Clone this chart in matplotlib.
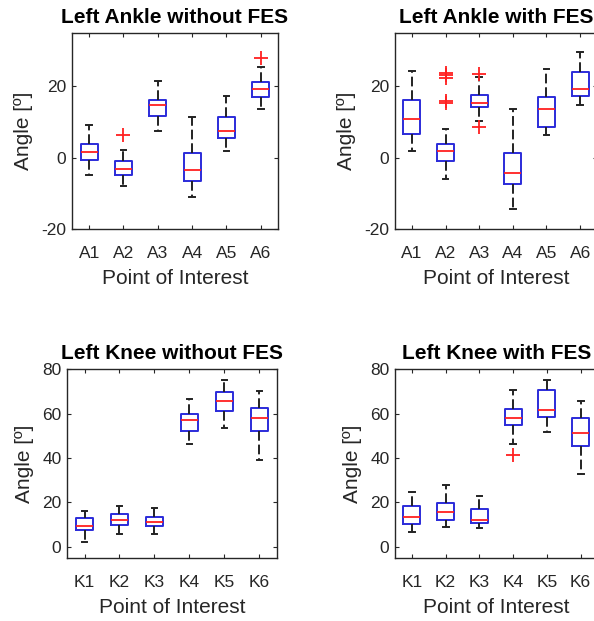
import matplotlib
matplotlib.use("Agg")
import matplotlib.pyplot as plt

plt.rcParams['font.family'] = ['Liberation Sans', 'DejaVu Sans']
plt.rcParams['axes.unicode_minus'] = False

ankle_labels = ['A1', 'A2', 'A3', 'A4', 'A5', 'A6']
knee_labels = ['K1', 'K2', 'K3', 'K4', 'K5', 'K6']

# box stats: low whisker, q1, median, q3, high whisker
ankle_wo_low = [-4.7, -8.0, 7.5, -11.0, 1.8, 13.8]
ankle_wo_q1 = [-0.7, -4.8, 11.8, -6.4, 5.6, 17.1]
ankle_wo_med = [1.5, -3.2, 14.8, -3.3, 7.4, 19.3]
ankle_wo_q3 = [3.8, -1.0, 16.3, 1.4, 11.5, 21.3]
ankle_wo_high = [9.1, 2.2, 21.4, 11.4, 17.2, 25.5]
ankle_wo_out = [[], [6.3], [], [], [], [28.0]]

ankle_w_low = [2.0, -6.1, 10.3, -14.3, 6.4, 14.7]
ankle_w_q1 = [6.8, -0.8, 14.2, -7.4, 8.7, 17.4]
ankle_w_med = [10.8, 1.9, 15.4, -4.4, 13.6, 19.3]
ankle_w_q3 = [16.3, 3.9, 17.7, 1.4, 17.1, 24.0]
ankle_w_high = [24.3, 8.2, 22.8, 13.7, 24.9, 29.6]
ankle_w_out = [[], [23.7, 23.1, 22.4, 16.0, 15.5], [23.5, 8.5], [], [], []]

knee_wo_low = [2.0, 5.6, 5.6, 46.4, 53.5, 38.9]
knee_wo_q1 = [7.5, 9.8, 9.5, 52.1, 61.3, 52.1]
knee_wo_med = [9.6, 12.0, 11.4, 56.9, 65.8, 57.8]
knee_wo_q3 = [12.8, 14.8, 13.4, 59.6, 69.9, 62.5]
knee_wo_high = [16.0, 18.5, 17.5, 66.7, 75.3, 70.2]
knee_wo_out = [[], [], [], [], [], []]

knee_w_low = [6.9, 8.9, 8.4, 46.1, 51.8, 32.8]
knee_w_q1 = [10.1, 12.2, 10.7, 54.8, 58.5, 45.6]
knee_w_med = [13.4, 15.7, 12.3, 58.0, 61.5, 51.3]
knee_w_q3 = [18.5, 19.6, 17.2, 62.0, 70.8, 57.8]
knee_w_high = [24.7, 28.0, 23.0, 70.6, 75.0, 65.5]
knee_w_out = [[], [], [], [41.4], [], []]


def make_stats(low, q1, med, q3, high, out):
    stats = []
    for i in range(len(med)):
        stats.append({'whislo': low[i], 'q1': q1[i], 'med': med[i],
                      'q3': q3[i], 'whishi': high[i], 'fliers': out[i]})
    return stats


def draw_panel(ax, stats, labels, title, ylim, yticks):
    ax.bxp(stats, positions=range(1, 7), widths=0.5, capwidths=0.17,
           showfliers=True,
           boxprops=dict(color='#2b2bd9', linewidth=1.4),
           medianprops=dict(color='#ff2020', linewidth=1.3),
           whiskerprops=dict(color='#222222', linewidth=1.4, linestyle=(0, (5, 2))),
           capprops=dict(color='#222222', linewidth=1.4),
           flierprops=dict(marker='+', markeredgecolor='#ff2020', markersize=10,
                           markeredgewidth=1.3, linestyle='none'))
    ax.set_xlim(0.5, 6.5)
    ax.set_ylim(*ylim)
    ax.set_yticks(yticks)
    ax.set_xticks(range(1, 7))
    ax.set_xticklabels(labels)
    ax.set_title(title, fontsize=15, fontweight='bold', pad=7)
    ax.set_xlabel('Point of Interest', fontsize=15, color='#262626', labelpad=6)
    ax.set_ylabel('Angle [º]', fontsize=15, color='#262626', labelpad=6)
    ax.tick_params(direction='in', top=True, right=True, length=3,
                   labelsize=12.5, colors='#262626', width=0.8)
    ax.tick_params(axis='x', pad=12)
    ax.tick_params(axis='y', pad=4)
    for s in ax.spines.values():
        s.set_color('#262626')
        s.set_linewidth(1.0)


fig = plt.figure(figsize=(5.94, 6.21), dpi=100)
ax1 = fig.add_axes([0.1212, 0.6312, 0.3468, 0.3156])
ax2 = fig.add_axes([0.665, 0.6312, 0.340, 0.3156])
ax3 = fig.add_axes([0.1128, 0.1014, 0.3535, 0.3043])
ax4 = fig.add_axes([0.665, 0.1014, 0.341, 0.3043])

draw_panel(ax1, make_stats(ankle_wo_low, ankle_wo_q1, ankle_wo_med, ankle_wo_q3, ankle_wo_high, ankle_wo_out),
           ankle_labels, 'Left Ankle without FES', (-20, 35), [-20, 0, 20])
draw_panel(ax2, make_stats(ankle_w_low, ankle_w_q1, ankle_w_med, ankle_w_q3, ankle_w_high, ankle_w_out),
           ankle_labels, 'Left Ankle with FES', (-20, 35), [-20, 0, 20])
draw_panel(ax3, make_stats(knee_wo_low, knee_wo_q1, knee_wo_med, knee_wo_q3, knee_wo_high, knee_wo_out),
           knee_labels, 'Left Knee without FES', (-5, 80), [0, 20, 40, 60, 80])
draw_panel(ax4, make_stats(knee_w_low, knee_w_q1, knee_w_med, knee_w_q3, knee_w_high, knee_w_out),
           knee_labels, 'Left Knee with FES', (-5, 80), [0, 20, 40, 60, 80])

fig.savefig('out.png', dpi=100)
